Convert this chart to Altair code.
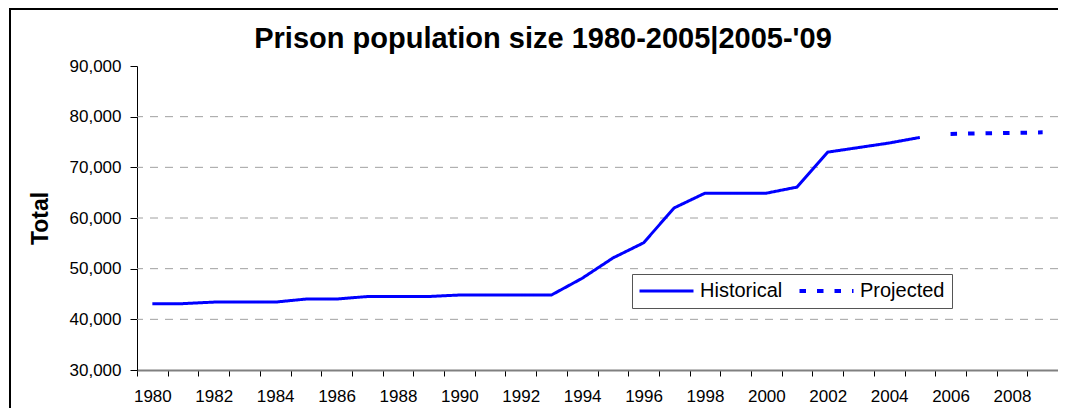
import altair as alt
import pandas as pd

hist_years = list(range(1980, 2006))
hist_values = [43100, 43100, 43400, 43400, 43400, 44000, 44000, 44500, 44500, 44500,
               44800, 44800, 44800, 44800, 48100, 52100, 55100, 62000, 64900, 64900,
               64900, 66100, 73000, 73900, 74800, 75900]
proj_years = [2006, 2007, 2008, 2009]
proj_values = [76600, 76700, 76800, 76900]
grid_values = [40000, 50000, 60000, 70000, 80000]
y_ticks = [30000, 40000, 50000, 60000, 70000, 80000, 90000]
all_years = list(range(1980, 2010))
title_text = "Prison population size 1980-2005|2005-'09"

df = pd.DataFrame({
    "year": hist_years + proj_years,
    "total": hist_values + proj_values,
    "series": ["Historical"] * len(hist_years) + ["Projected"] * len(proj_years),
})
grid_df = pd.DataFrame({"g": grid_values})
one_df = pd.DataFrame({"k": [0]})

FONT = "Liberation Sans"
BLUE = "#0000FF"

xscale = alt.Scale(type="band", domain=all_years, paddingInner=0, paddingOuter=0)
yscale = alt.Scale(domain=[30000, 90000], nice=False, zero=False)

yaxis = alt.Axis(title="Total", values=y_ticks, format=",.0f", grid=False,
                 domainColor="#000000", domainWidth=1,
                 tickColor="#000000", tickSize=7,
                 labelFontSize=17, labelFont=FONT, labelColor="#000000",
                 labelPadding=9,
                 titleFont=FONT, titleFontSize=23, titleFontWeight="bold",
                 titleColor="#000000", titleAngle=-90, titleX=-90, titleY=152,
                 titleAlign="center", titleBaseline="alphabetic")

grid = alt.Chart(grid_df).mark_rule(color="#a0a0a0", strokeWidth=1, strokeDash=[8, 7]).encode(
    y=alt.Y("g:Q", scale=yscale, axis=yaxis)
)

lines = alt.Chart(df).mark_line(color=BLUE).encode(
    x=alt.X("year:O", scale=xscale, bandPosition=0.5,
            axis=alt.Axis(title=None, tickBand="extent", labelAngle=0,
                          labelExpr="datum.value % 2 == 0 ? datum.label : ''",
                          domainColor="#808080", domainWidth=2,
                          tickColor="#000000", tickSize=6, tickWidth=1,
                          labelFontSize=17, labelFont=FONT, labelColor="#000000",
                          labelPadding=12, grid=False)),
    y=alt.Y("total:Q", scale=yscale, axis=yaxis),
    strokeWidth=alt.StrokeWidth(
        "series:N",
        scale=alt.Scale(domain=["Historical", "Projected"], range=[3, 4]),
        legend=None,
    ),
    strokeDash=alt.StrokeDash(
        "series:N",
        scale=alt.Scale(domain=["Historical", "Projected"], range=[[1, 0], [6.5, 11]]),
        legend=alt.Legend(title=None, orient="none", legendX=495, legendY=208,
                          direction="horizontal", columns=2,
                          symbolType="M-1.9,0H8.9", symbolSize=100,
                          symbolStrokeWidth=3, symbolStrokeColor=BLUE,
                          labelFont=FONT, labelFontSize=20, labelColor="#000000",
                          labelOffset=41, columnPadding=8, padding=7,
                          strokeColor="#555555", fillColor="#ffffff", labelLimit=300),
    ),
)

frame = alt.Chart(one_df).mark_rect(fill="transparent", stroke="#000000", strokeWidth=2).encode(
    x=alt.value(-127), x2=alt.value(1100), y=alt.value(-57), y2=alt.value(420)
)

title = alt.Chart(one_df).mark_text(
    text=title_text, font=FONT, fontSize=29, fontWeight="bold", color="#000000",
    align="center", baseline="alphabetic"
).encode(x=alt.value(406), y=alt.value(-18.5))

chart = alt.layer(frame, grid, lines, title).properties(
    width=921, height=304,
    autosize=alt.AutoSizeParams(type="none"),
    padding={"left": 129, "top": 58, "right": 0, "bottom": 38},
).configure_view(stroke=None)

chart.save("out.html", embed_options={"renderer": "svg", "actions": False})
